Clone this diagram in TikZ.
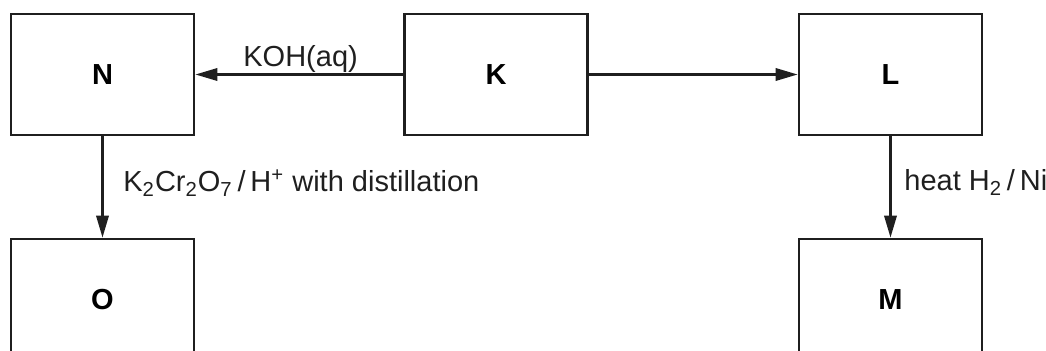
\documentclass[tikz,border=0pt]{standalone}
\usepackage{fontspec}
\setmainfont{Liberation Sans}
\usetikzlibrary{arrows.meta}
\tikzset{
  box/.style={draw=black!88, line width=1.4pt, minimum width=91.5pt, minimum height=60.5pt,
              inner sep=0pt, font=\fontsize{14.5}{17}\selectfont\bfseries},
  link/.style={draw=black!88, line width=1.15pt, -{Triangle[length=11pt,width=6.2pt]}},
  lbl/.style={inner sep=0pt, font=\fontsize{14.5}{17}\selectfont, text=black!88}
}
\begin{document}
\begin{tikzpicture}[x=0.5pt,y=-0.5pt]
  \useasboundingbox (0,0) rectangle (1046,351);
  \clip (0,0) rectangle (1046,351);
  % reaction scheme boxes
  \node[box] (N) at (102.5,74.5) {N};
  \node[box] (K) at (496,74.5) {K};
  \node[box] (L) at (890.5,74.5) {L};
  \node[box] (O) at (102.5,299.5) {O};
  \node[box] (M) at (890.5,299.5) {M};
  % reactions
  \draw[link] (K) -- (N);
  \draw[link] (K) -- (L);
  \draw[link] (N) -- (O);
  \draw[link] (L) -- (M);
  % conditions
  \node[lbl, anchor=base west] (c1) at (243,67) {KOH(aq)};
  \node[lbl, anchor=base west] (c2) at (123,192)
    {K\textsubscript{2}Cr\textsubscript{2}O\textsubscript{7}\,/\,H\textsuperscript{+} with distillation};
  \node[lbl, anchor=base west] (c3) at (904,191) {heat H\textsubscript{2}\,/\,Ni};
\end{tikzpicture}
\end{document}
